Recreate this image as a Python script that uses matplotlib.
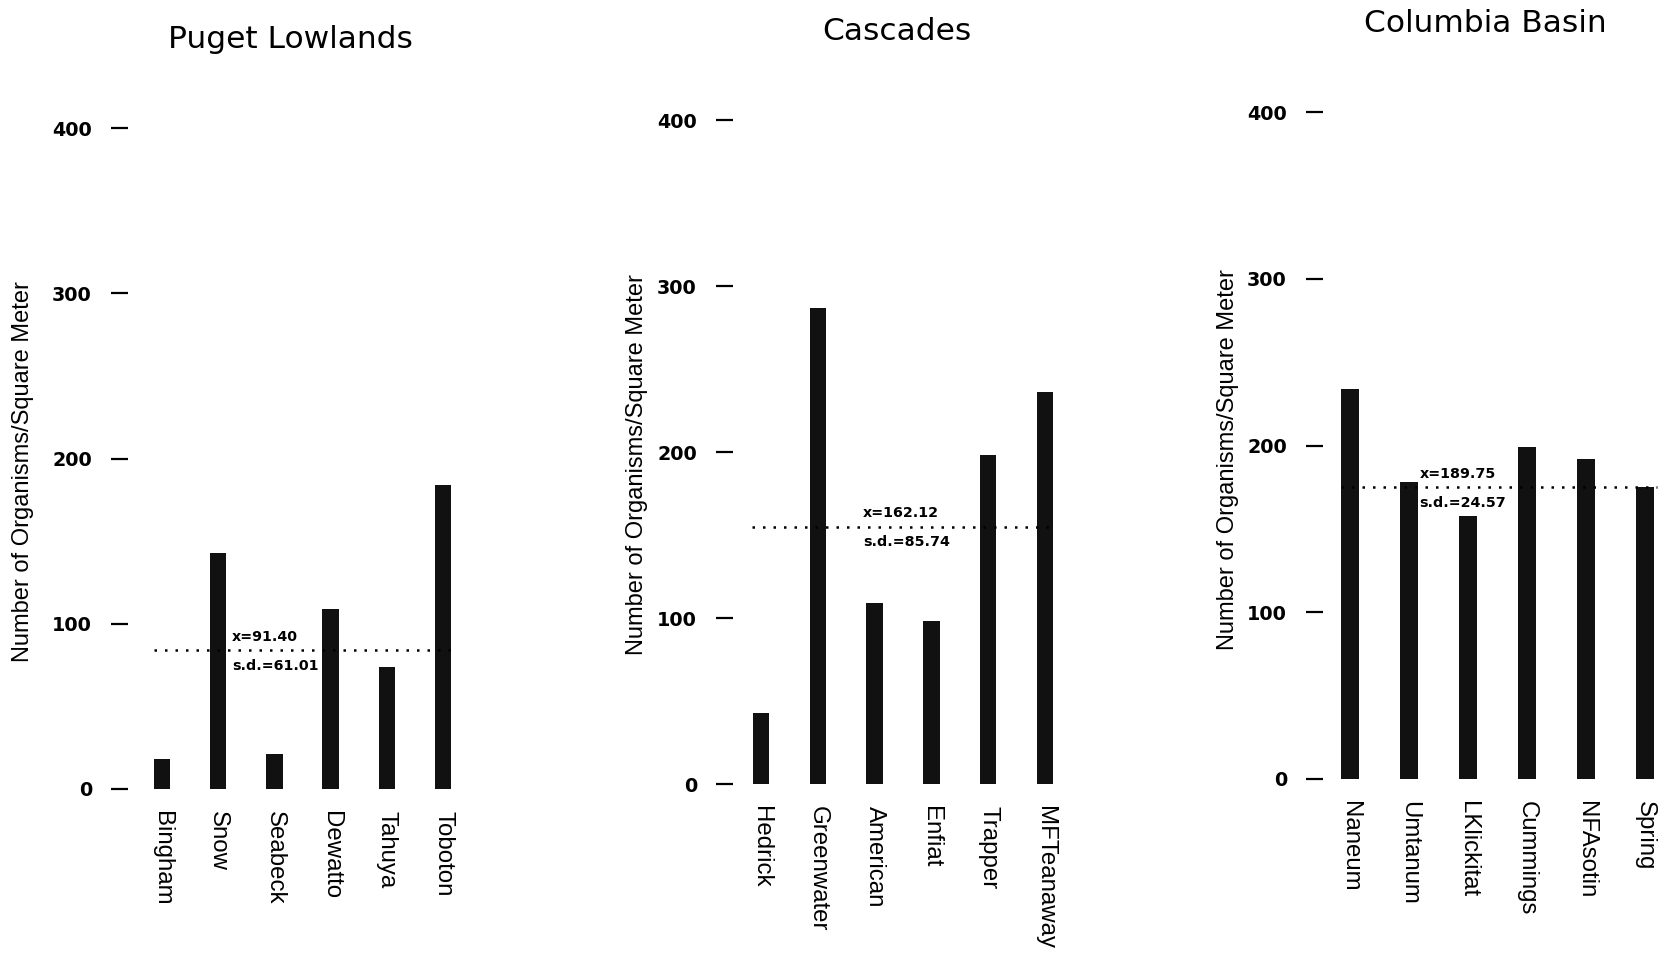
import numpy as np
import matplotlib.pyplot as plt

# figure size in pixels
W, H = 1669, 961

# data
titles = ['Puget Lowlands', 'Cascades', 'Columbia Basin']

sites_puget = ['Bingham', 'Snow', 'Seabeck', 'Dewatto', 'Tahuya', 'Toboton']
vals_puget = [18, 143, 21, 109, 74, 184]

sites_casc = ['Hedrick', 'Greenwater', 'American', 'Enfiat', 'Trapper', 'MFTeanaway']
vals_casc = [43, 287, 109, 98, 198, 236]

sites_col = ['Naneum', 'Umtanum', 'LKlickitat', 'Cummings', 'NFAsotin', 'Spring']
vals_col = [234, 178, 158, 199, 192, 175]

mean_labels = ['x=91.40', 'x=162.12', 'x=189.75']
sd_labels = ['s.d.=61.01', 's.d.=85.74', 's.d.=24.57']
mean_lines = [84, 155, 175]   # where the dotted line is drawn in the original

yticks = [0, 100, 200, 300, 400]
ylab = 'Number of Organisms/Square Meter'

sites = [sites_puget, sites_casc, sites_col]
vals = [vals_puget, vals_casc, vals_col]

# panel layout in pixels: tick edge, first/last bar centre, y of 0 and 400
layout = [
    (128, 162, 443, 789, 128),
    (733, 761, 1045, 784, 120),
    (1323, 1350, 1645, 779, 112),
]
title_pos = [(290, 40), (897, 32), (1485, 24)]
ylab_pos = [(23, 472), (637, 465), (1228, 460)]
note_x = [1.25, 1.8, 1.18]

fig = plt.figure(figsize=(W / 100, H / 100), dpi=100)

XMAX = 5.35
for i in range(3):
    tick_px, c0, c5, y0, y400 = layout[i]
    step = (c5 - c0) / 5
    xmin = -(c0 - tick_px) / step
    right_px = c5 + (XMAX - 5) * step
    ax = fig.add_axes([tick_px / W, 1 - y0 / H,
                       (right_px - tick_px) / W, (y0 - y400) / H])
    x = np.arange(len(sites[i]))
    ax.bar(x, vals[i], width=0.29, color='#111111', clip_on=False)
    ax.hlines(mean_lines[i], -0.15, 5.2, colors='black',
              linestyles=(0, (1, 3.2)), linewidth=1.8)
    ax.text(note_x[i], mean_lines[i] + 8, mean_labels[i], fontsize=10.3,
            fontweight='bold', va='center', ha='left')
    ax.text(note_x[i], mean_lines[i] - 9.5, sd_labels[i], fontsize=10.3,
            fontweight='bold', va='center', ha='left')

    ax.set_xlim(xmin, XMAX)
    ax.set_ylim(0, 400)
    for s in ax.spines.values():
        s.set_visible(False)
    ax.set_yticks(yticks)
    ax.set_yticklabels([str(t) for t in yticks], fontsize=13.8,
                       fontweight='bold')
    ax.tick_params(axis='y', direction='out', length=12, width=1.6, pad=14)
    ax.set_xticks(x)
    ax.set_xticklabels(sites[i], rotation=270, va='top', ha='center',
                       fontsize=17.3, family='Liberation Sans')
    ax.tick_params(axis='x', length=0, pad=16)

    tx, ty = title_pos[i]
    fig.text(tx / W, 1 - ty / H, titles[i], fontsize=22.5,
             ha='center', va='center')
    lx, ly = ylab_pos[i]
    fig.text(lx / W, 1 - ly / H, ylab, rotation=90, fontsize=17,
             family='Liberation Sans', ha='center', va='center')

plt.savefig('out.png', dpi=100)
